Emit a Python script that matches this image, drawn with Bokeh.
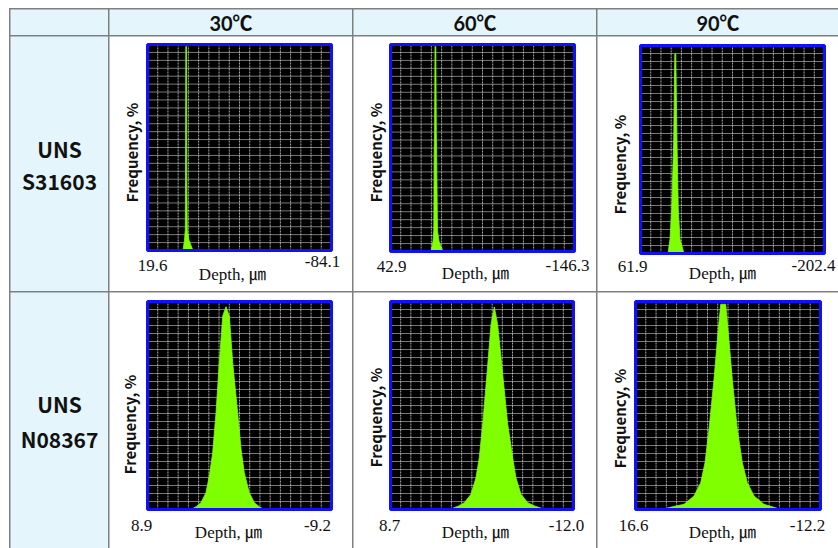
import numpy as np
from bokeh.plotting import figure
from bokeh.models import Range1d, Label, Row, Column, BoxAnnotation
from bokeh.embed import file_html
from bokeh.resources import INLINE

# ---------------- data ----------------
temperatures = ["30℃", "60℃", "90℃"]
alloy_prefix = ["UNS", "UNS"]
alloy_codes = ["S31603", "N08367"]

# x-axis end values (left, right) of each histogram, rows = alloys, cols = temperatures
depth_left = [[19.6, 42.9, 61.9], [8.9, 8.7, 16.6]]
depth_right = [[-84.1, -146.3, -202.4], [-9.2, -12.0, -12.2]]
# full-scale of the frequency axis (%)
freq_top = [[40, 40, 40], [10, 10, 10]]

# depth profiles (µm) and frequencies (%)
s31603_30_depth = [-0.40, -1.25, -1.70, -1.82, -1.99, -2.38, -2.55, -2.83, -3.79, -6.04]
s31603_30_freq = [0.0, 2.0, 4.0, 13.2, 39.6, 39.6, 13.2, 4.0, 2.0, 0.0]

s31603_60_depth = [1.25, -0.80, -1.63, -2.04, -2.45, -2.86, -3.68, -4.20, -4.50, -5.43, -6.97, -11.10]
s31603_60_freq = [0.0, 2.0, 4.0, 19.2, 23.2, 39.6, 39.6, 23.2, 19.2, 4.0, 2.0, 0.0]

s31603_90_depth = [22.4, 19.5, 17.1, 14.2, 12.6, 11.2, 9.5, 7.6, 5.2, -0.6]
s31603_90_freq = [0.0, 2.8, 8.4, 21.6, 38.4, 38.4, 21.6, 8.4, 2.8, 0.0]

n08367_30_depth = [4.62, 4.13, 3.64, 3.15, 2.82, 2.49, 2.16, 1.84, 1.50, 1.18,
                   0.85, 0.52, 0.03, -0.30, -0.62, -1.11, -1.61, -2.10, -2.56]
n08367_30_freq = [0.0, 0.13, 0.33, 0.81, 1.61, 2.73, 4.65, 7.06, 9.30, 9.75,
                  9.30, 7.06, 4.65, 2.91, 1.77, 0.81, 0.33, 0.13, 0.0]

n08367_60_depth = [2.00, 1.00, 0.35, -0.40, -0.97, -1.34, -1.73, -2.21, -2.67, -3.04,
                   -3.42, -3.99, -4.56, -5.12, -5.49, -6.06, -6.82, -7.60, -8.80]
n08367_60_freq = [0.0, 0.17, 0.33, 0.73, 1.53, 2.49, 4.10, 6.50, 8.90, 9.74,
                  8.90, 6.50, 4.10, 2.49, 1.53, 0.73, 0.33, 0.17, 0.0]

n08367_90_depth = [12.63, 10.87, 9.05, 7.49, 6.45, 5.78, 5.16, 4.38, 3.71, 3.33,
                   2.56, 2.20, 1.53, 0.75, -0.03, -0.81, -1.85, -3.41, -4.70, -6.05]
n08367_90_freq = [0.0, 0.13, 0.25, 0.65, 1.29, 2.25, 3.86, 6.26, 8.66, 9.87,
                  9.87, 8.66, 6.26, 3.86, 2.25, 1.29, 0.65, 0.25, 0.13, 0.0]

profiles = [
    [(s31603_30_depth, s31603_30_freq), (s31603_60_depth, s31603_60_freq), (s31603_90_depth, s31603_90_freq)],
    [(n08367_30_depth, n08367_30_freq), (n08367_60_depth, n08367_60_freq), (n08367_90_depth, n08367_90_freq)],
]

# ---------------- layout / style ----------------
LIGHT_BLUE = "#e4f5fc"
GRID_GRAY = "#7f7f7f"
GREEN = "#7fff00"
BLUE = "#1010ff"
SANS = "Noto Sans CJK KR"
HEAD = "Lato, Noto Sans CJK KR"
SERIF = "Liberation Serif, Noto Sans CJK KR"
INK = "#111111"

col_w = [98, 243, 243, 241]
row_h = [26, 255, 256]
N_VDIV, N_HDIV = 18, 26

# per-cell histogram box inside the cell (px): (left, top, width, height)
frame_geo = [
    [(38, 8, 184, 206), (37, 8, 184, 207), (43, 9, 184, 208)],
    [(38, 9, 184, 208), (37, 9, 183, 208), (38, 9, 185, 208)],
]
# label placement (px, x from cell left / y from cell bottom; end labels as offsets from box edges):
# left dx, left y, right dx, right y, depth x, depth y, freq x, freq y
label_geo = [
    [(5, 26, -9, 30, 125, 17, 22, 139), (1, 25, -7, 26, 124, 18, 22, 139), (-8, 25, -11, 26, 127, 18, 22, 127)],
    [(-6, 23, -14, 23, 121, 16, 20, 124), (-1, 23, -7, 23, 124, 16, 22, 131), (-2, 23, -13, 23, 127, 16, 22, 130)],
]
row_label_y = [(143, 111), (145, 110)]


def blank_cell(w, h, fill):
    f = figure(width=w, height=h, x_range=Range1d(0, 1), y_range=Range1d(0, 1),
               min_border=0, toolbar_location=None, output_backend="svg",
               x_axis_location=None, y_axis_location=None,
               background_fill_color=fill, border_fill_color=fill, outline_line_color=None)
    f.xgrid.visible = False
    f.ygrid.visible = False
    return f


def cell_label(fig, x, y, text, font=SANS, size="21px"):
    fig.add_layout(Label(x=x, y=y, x_units="screen", y_units="screen", text=text,
                         text_align="center", text_baseline="middle", text_font=font,
                         text_font_style="bold", text_font_size=size, text_color=INK))


rows = []
header = [blank_cell(col_w[0], row_h[0], LIGHT_BLUE)]
for j, t in enumerate(temperatures):
    c = blank_cell(col_w[j + 1], row_h[0], LIGHT_BLUE)
    cell_label(c, col_w[j + 1] / 2, 13, t, font=HEAD, size="20px")
    header.append(c)
rows.append(Row(children=header, spacing=1))

for i in range(2):
    cells = []
    lab = blank_cell(col_w[0], row_h[i + 1], LIGHT_BLUE)
    ya, yb = row_label_y[i]
    cell_label(lab, col_w[0] / 2, ya, alloy_prefix[i])
    cell_label(lab, col_w[0] / 2, yb, alloy_codes[i])
    cells.append(lab)

    for j in range(3):
        bl, bt, fw, fh = frame_geo[i][j]
        w, h = col_w[j + 1], row_h[i + 1]
        x0, x1 = depth_left[i][j], depth_right[i][j]
        top = freq_top[i][j]
        sx = (x1 - x0) / fw
        sy = top / fh
        xr = Range1d(x0 - bl * sx, x0 + (w - bl) * sx)
        yr = Range1d(-(h - bt - fh) * sy, top + bt * sy)
        p = figure(width=w, height=h, min_border=0, x_range=xr, y_range=yr,
                   toolbar_location=None, output_backend="svg",
                   x_axis_location=None, y_axis_location=None,
                   background_fill_color="white", border_fill_color="white",
                   outline_line_color=None)
        p.xgrid.visible = False
        p.ygrid.visible = False
        # black plotting area
        p.add_layout(BoxAnnotation(left=x0, right=x1, bottom=0, top=top, fill_color="black",
                                   fill_alpha=1, line_alpha=0, level="image"))
        # grid lines restricted to the plotting area
        gx = np.linspace(x0, x1, N_VDIV + 1)[1:-1]
        gy = np.linspace(0, top, N_HDIV + 1)[1:-1]
        p.segment(x0=gx, y0=np.zeros_like(gx), x1=gx, y1=np.full_like(gx, top),
                  line_color="#a8a8a8", line_width=1, line_dash="2 1", level="underlay")
        p.segment(x0=np.full_like(gy, x0), y0=gy, x1=np.full_like(gy, x1), y1=gy,
                  line_color="#eeeeee", line_width=1, line_dash="1 1", level="underlay")

        d, fr = profiles[i][j]
        p.patch(d, fr, fill_color=GREEN, line_color=GREEN, line_width=0.8)

        # blue border of the plotting area
        p.add_layout(BoxAnnotation(left=x0, right=x1, bottom=0, top=top, fill_alpha=0,
                                   line_color=BLUE, line_alpha=1, line_width=3, level="overlay"))

        ldx, ly, rdx, ry, dx, dy, fx, fy = label_geo[i][j]
        p.add_layout(Label(x=x0, y=ly, y_units="screen", x_offset=ldx, text=f"{x0:.1f}",
                           text_align="center", text_baseline="middle", text_font=SERIF,
                           text_font_size="17px", text_color=INK))
        p.add_layout(Label(x=x1, y=ry, y_units="screen", x_offset=rdx, text=f"{x1:.1f}",
                           text_align="center", text_baseline="middle", text_font=SERIF,
                           text_font_size="17px", text_color=INK))
        p.add_layout(Label(x=dx, y=dy, x_units="screen", y_units="screen", text="Depth,  ㎛",
                           text_align="center", text_baseline="middle", text_font=SERIF,
                           text_font_size="17px", text_color=INK))
        p.add_layout(Label(x=fx, y=fy, x_units="screen", y_units="screen", text="Frequency, %",
                           angle=90, angle_units="deg", text_align="center", text_baseline="middle",
                           text_font=SANS, text_font_style="bold", text_font_size="15px",
                           text_color=INK))
        cells.append(p)
    rows.append(Row(children=cells, spacing=1))

layout = Column(children=rows, spacing=1, margin=(8, 0, 0, 9),
                styles={"background-color": GRID_GRAY,
                        "border-top": f"1px solid {GRID_GRAY}",
                        "border-left": f"1px solid {GRID_GRAY}"})

open("out.html", "w").write(file_html(layout, INLINE))
